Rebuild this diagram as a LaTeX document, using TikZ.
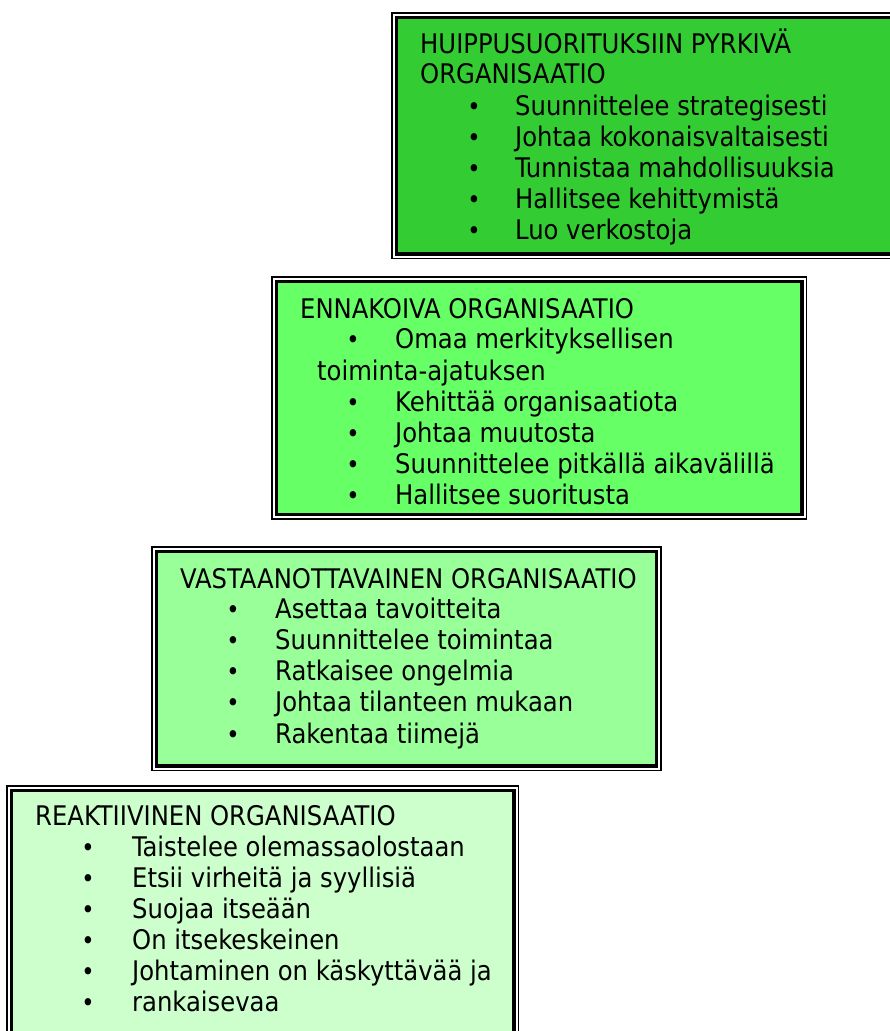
\documentclass[tikz,border=0pt]{standalone}
\usepackage{fontspec}
\setmainfont{DejaVu Sans Condensed}
\newcommand\dframe[6]{% fill, x1,y1,x2,y2 (outer), name
  \fill[#1] (#2+4.5,#3+4.5) rectangle (#4-4.5,#5-4.5);
  \draw[thickline] (#2+4.5,#3+4.5) rectangle (#4-4.5,#5-4.5);
  \draw[thinline] (#2,#3) rectangle (#4,#5);
  \coordinate (#6) at (#2,#3);
}
\definecolor{gA}{HTML}{33CC33}
\definecolor{gB}{HTML}{66FF66}
\definecolor{gC}{HTML}{99FF99}
\definecolor{gD}{HTML}{CCFFCC}
\begin{document}
\begin{tikzpicture}[x=1pt,y=-1pt,
  txt/.style={anchor=base west,inner sep=0pt,font=\fontsize{27}{30}\selectfont},
  bul/.style={anchor=base,inner sep=0pt,font=\fontsize{25}{30}\selectfont},
  thinline/.style={line width=1.5pt,draw=black},
  thickline/.style={line width=3.5pt,draw=black}]
\useasboundingbox (0,0) rectangle (890,1031);
\clip (0,0) rectangle (890,1031);
\fill[white] (0,0) rectangle (890,1031);
% boxes
\dframe{gA}{392}{13}{905}{258.5}{boxA}
\dframe{gB}{272}{277}{806.5}{519}{boxB}
\dframe{gC}{152}{547}{661}{770.5}{boxC}
\dframe{gD}{7}{786}{518.5}{1045}{boxD}
% box A
\node[txt] (a0) at (420,53) {HUIPPUSUORITUKSIIN PYRKIVÄ};
\node[txt] (a1) at (420,83) {ORGANISAATIO};
\foreach \t [count=\i] in {Suunnittelee strategisesti,Johtaa kokonaisvaltaisesti,Tunnistaa mahdollisuuksia,Hallitsee kehittymistä,Luo verkostoja}{
  \node[bul] (ab\i) at (474,84+31*\i) {•};
  \node[txt] (at\i) at (515,84+31*\i) {\t};
}
% box B
\node[txt] (b0) at (300,318) {ENNAKOIVA ORGANISAATIO};
\node[bul] (bb1) at (353,348) {•};
\node[txt] (bt1) at (395,348) {Omaa merkityksellisen};
\node[txt] (bt1b) at (317,380) {toiminta-ajatuksen};
\foreach \t [count=\i] in {Kehittää organisaatiota,Johtaa muutosta,Suunnittelee pitkällä aikavälillä,Hallitsee suoritusta}{
  \node[bul] (bb\i x) at (353,380+31*\i) {•};
  \node[txt] (bt\i x) at (395,380+31*\i) {\t};
}
% box C
\node[txt] (c0) at (180,588) {VASTAANOTTAVAINEN ORGANISAATIO};
\foreach \t [count=\i] in {Asettaa tavoitteita,Suunnittelee toimintaa,Ratkaisee ongelmia,Johtaa tilanteen mukaan,Rakentaa tiimejä}{
  \node[bul] (cb\i) at (233,587+31.2*\i) {•};
  \node[txt] (ct\i) at (275,587+31.2*\i) {\t};
}
% box D
\node[txt] (d0) at (35,825) {REAKTIIVINEN ORGANISAATIO};
\foreach \t [count=\i] in {Taistelee olemassaolostaan,Etsii virheitä ja syyllisiä,Suojaa itseään,On itsekeskeinen,Johtaminen on käskyttävää ja,rankaisevaa}{
  \node[bul] (db\i) at (88,826+30.9*\i) {•};
  \node[txt] (dt\i) at (132,826+30.9*\i) {\t};
}
\end{tikzpicture}
\end{document}
